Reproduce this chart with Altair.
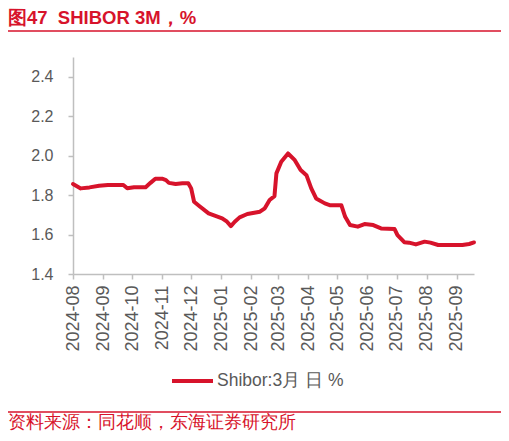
import altair as alt
import pandas as pd

# SHIBOR 3M (date, %)
dates = [
    "2024-08-01", "2024-08-09", "2024-08-18", "2024-08-28", "2024-09-06",
    "2024-09-22", "2024-09-26", "2024-10-03", "2024-10-15", "2024-10-20",
    "2024-10-25", "2024-11-01", "2024-11-05", "2024-11-08", "2024-11-15",
    "2024-11-22", "2024-11-28", "2024-12-01", "2024-12-04", "2024-12-09",
    "2024-12-19", "2025-01-02", "2025-01-07", "2025-01-11", "2025-01-15",
    "2025-01-20", "2025-01-28", "2025-02-10", "2025-02-15", "2025-02-20",
    "2025-02-25", "2025-02-27", "2025-03-04", "2025-03-11", "2025-03-18",
    "2025-03-24", "2025-03-30", "2025-04-04", "2025-04-09", "2025-04-18",
    "2025-04-23", "2025-05-05", "2025-05-09", "2025-05-14", "2025-05-22",
    "2025-05-29", "2025-06-07", "2025-06-15", "2025-06-29", "2025-07-02",
    "2025-07-09", "2025-07-14", "2025-07-21", "2025-07-30", "2025-08-05",
    "2025-08-13", "2025-09-07", "2025-09-14", "2025-09-19",
]
shibor = [
    1.856, 1.834, 1.839, 1.847, 1.851,
    1.851, 1.835, 1.840, 1.840, 1.862,
    1.883, 1.883, 1.876, 1.862, 1.856,
    1.860, 1.860, 1.834, 1.766, 1.746,
    1.707, 1.682, 1.665, 1.643, 1.665,
    1.687, 1.704, 1.716, 1.733, 1.775,
    1.795, 1.910, 1.969, 2.011, 1.977,
    1.927, 1.901, 1.834, 1.783, 1.758,
    1.749, 1.749, 1.690, 1.648, 1.640,
    1.653, 1.648, 1.631, 1.628, 1.597,
    1.561, 1.559, 1.550, 1.564, 1.559,
    1.547, 1.547, 1.552, 1.560,
]
y_ticks = [1.4, 1.6, 1.8, 2.0, 2.2, 2.4]
month_ticks = [(2024, m) for m in range(8, 13)] + [(2025, m) for m in range(1, 10)]

title_text = "图47\u00a0\u00a0SHIBOR 3M，%"
legend_text = "Shibor:3月 日 %"
source_text = "资料来源：同花顺，东海证券研究所"

RED = "#D7132B"
GREY = "#595959"
AXIS = "#BFBFBF"
FONT = "Liberation Sans"

df = pd.DataFrame({"date": dates, "value": shibor})

line = (
    alt.Chart(df)
    .mark_line(color=RED, strokeWidth=4, strokeJoin="round", strokeCap="round")
    .encode(
        x=alt.X(
            "date:T",
            scale=alt.Scale(
                type="utc",
                domain=[
                    alt.DateTime(year=2024, month=8, date=1, utc=True),
                    alt.DateTime(year=2025, month=9, date=19, utc=True),
                ],
            ),
            axis=alt.Axis(
                values=[alt.DateTime(year=y, month=m, date=1, utc=True) for y, m in month_ticks],
                labelExpr="utcFormat(datum.value, '%Y-%m')",
                labelAngle=270,
                labelFontSize=18,
                labelPadding=6,
                tickSize=5,
                title=None,
            ),
        ),
        y=alt.Y(
            "value:Q",
            scale=alt.Scale(domain=[1.4, 2.5], nice=False, zero=False),
            axis=alt.Axis(
                values=y_ticks,
                format=".1f",
                labelFontSize=16,
                labelPadding=15,
                tickSize=5,
                title=None,
            ),
        ),
    )
)


def label(text, x, y, size, color, bold=False, baseline="alphabetic"):
    return (
        alt.Chart(pd.DataFrame({"t": [text]}))
        .mark_text(
            align="left",
            baseline=baseline,
            fontSize=size,
            fontWeight="bold" if bold else "normal",
            color=color,
            font=FONT,
        )
        .encode(text="t:N", x=alt.value(x), y=alt.value(y))
    )


def hrule(x1, x2, y, width):
    return (
        alt.Chart(pd.DataFrame({"k": [0]}))
        .mark_rule(color=RED, strokeWidth=width)
        .encode(x=alt.value(x1), x2=alt.value(x2), y=alt.value(y))
    )


chart = (
    alt.layer(
        line,
        label(title_text, -65, -33, 18.5, RED, bold=True),
        hrule(-65, 428, -26, 1.6),
        hrule(99, 140, 324, 4),
        label(legend_text, 144, 324, 17.5, GREY, baseline="middle"),
        hrule(-65, 428, 355, 1.4),
        label(source_text, -65, 371, 17.5, RED),
    )
    .properties(
        width=401,
        height=217,
        autosize=alt.AutoSizeParams(type="none"),
        padding={"left": 65, "top": 49, "right": 27, "bottom": 159},
    )
    .configure_view(stroke=None)
    .configure_axis(
        grid=False,
        domainColor=AXIS,
        domainWidth=1.5,
        tickColor=AXIS,
        tickWidth=1.5,
        labelColor=GREY,
        labelFont=FONT,
    )
)

chart.save("out.html", embed_options={"renderer": "svg", "actions": False})
